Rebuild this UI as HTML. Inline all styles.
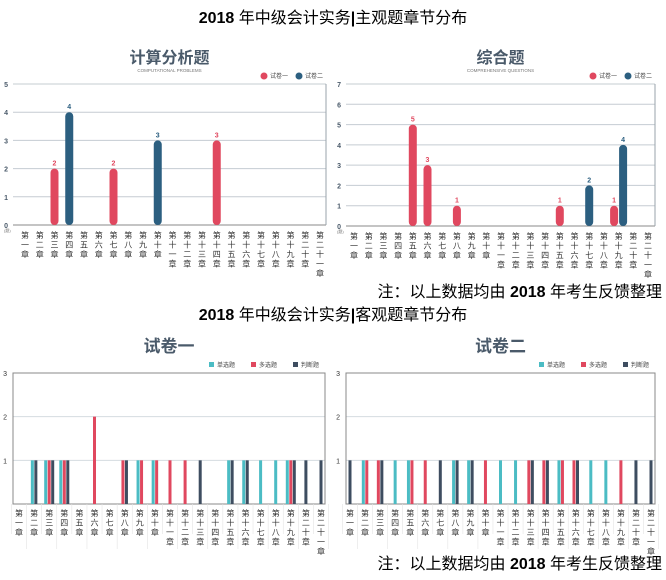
<!DOCTYPE html>
<html><head><meta charset="utf-8">
<style>
html,body{margin:0;padding:0;background:#fff;}
body{width:666px;height:575px;overflow:hidden;position:relative;font-family:"Liberation Sans","Noto Sans CJK SC",sans-serif;}
</style></head>
<body>
<svg id="s" width="666" height="575" xmlns="http://www.w3.org/2000/svg" font-family="Liberation Sans, Noto Sans CJK SC, sans-serif"></svg>
<script>
const S=document.getElementById('s');let h='';
const RED='#e0485f',BLUE='#2c5f80',CY='#4bbcc4',DK='#3e4d60';
const nums=['一','二','三','四','五','六','七','八','九','十','十一','十二','十三','十四','十五','十六','十七','十八','十九','二十','二十一'];
function txt(x,y,t,o){h+=`<text x="${x}" y="${y}" ${o||''}>${t}</text>`;}
function labels(c0,sp,y0){
 for(let i=0;i<21;i++){const ch=('第'+nums[i]+'章').split('');const cx=c0+sp*i;
  ch.forEach((c,k)=>txt(cx,y0+k*9.5,c,'font-size="8" fill="#333" text-anchor="middle"'));}
}
function topChart(o){
 const {x0,x1,y0,y1,max,c0,sp,title,sub,bars}=o;
 const cx=(x0+x1)/2;
 txt(cx,63,title,'font-size="16" font-weight="bold" fill="#4a5a6a" text-anchor="middle"');
 txt(cx,72,sub,'font-size="4.5" fill="#777" text-anchor="middle"');
 h+=`<circle cx="${x1-62}" cy="76" r="3.5" fill="${RED}"/><circle cx="${x1-27}" cy="76" r="3.5" fill="${BLUE}"/>`;
 txt(x1-56,78,'试卷一','font-size="6" fill="#444"');txt(x1-21,78,'试卷二','font-size="6" fill="#444"');
 for(let v=0;v<=max;v++){const y=y1-(y1-y0)*v/max;
  h+=`<line x1="${x0}" x2="${x1}" y1="${y}" y2="${y}" stroke="${v==0?'#888':'#c5ccd2'}" stroke-width="1"/>`;
  txt(x0-5,y+3,v,'font-size="7" font-weight="bold" fill="#4a5a6a" text-anchor="end"');}
 h+=`<line x1="${x1}" x2="${x1}" y1="${y0}" y2="${y1}" stroke="#9aa3ab" stroke-width="1"/>`;
 txt(x0-9,y1+7,'(题)','font-size="4" fill="#777"');
 bars.forEach(b=>{const c=c0+sp*b[0]+(b[3]||0);const hh=(y1-y0)*b[1]/max;const col=b[2];
  h+=`<rect x="${c-4}" y="${y1-hh}" width="8" height="${hh}" rx="4" fill="${col}"/>`;
  txt(c,y1-hh-3,b[1],`font-size="7" font-weight="bold" fill="${col}" text-anchor="middle"`);});
 labels(c0,sp,y1+13);
}
topChart({x0:13,x1:326,y0:84,y1:225,max:5,c0:25,sp:14.75,title:'计算分析题',sub:'COMPUTATIONAL PROBLEMS',
 bars:[[2,2,RED],[3,4,BLUE],[6,2,RED],[9,3,BLUE],[13,3,RED]]});
topChart({x0:346,x1:655,y0:84,y1:226,max:7,c0:354,sp:14.7,title:'综合题',sub:'COMPREHENSIVE QUESTIONS',
 bars:[[4,5,RED],[5,3,RED],[7,1,RED],[14,1,RED],[16,2,BLUE],[18,1,RED,-4.5],[18,4,BLUE,4.5]]});
function botChart(o){
 const {x0,x1,y0,y1,c0,sp,title,data}=o;const cx=(x0+x1)/2;
 txt(cx,352,title,'font-size="17" font-weight="bold" fill="#4a5a6a" text-anchor="middle"');
 const lg=[[CY,'单选题',x1-108],[RED,'多选题',x1-66],[DK,'判断题',x1-24]];
 lg.forEach(l=>{h+=`<rect x="${l[2]-8}" y="362" width="5" height="5" fill="${l[0]}"/>`;txt(l[2],367,l[1],'font-size="6" fill="#444"');});
 for(let v=0;v<=3;v++){const y=y1-(y1-y0)*v/3;
  h+=`<line x1="${x0}" x2="${x1}" y1="${y}" y2="${y}" stroke="${v==0?'#888':'#d5dbe0'}" stroke-width="1"/>`;
  if(v>0)txt(x0-6,y+3,v,'font-size="7" fill="#333" text-anchor="end"');}
 h+=`<rect x="${x0}" y="${y0}" width="${x1-x0}" height="${y1-y0}" fill="none" stroke="#888" stroke-width="1"/>`;
 for(let i=0;i<=21;i++){const x=c0+sp*(i-0.5);h+=`<line x1="${x}" x2="${x}" y1="${y1}" y2="${y1+(i%2?45:30)}" stroke="#e4e4e4" stroke-width="0.6"/>`;}
 data.forEach((d,i)=>{const c=c0+sp*i;const items=[];
  if(d[0])items.push([CY,d[0]]);if(d[1])items.push([RED,d[1]]);if(d[2])items.push([DK,d[2]]);
  const n=items.length;items.forEach((it,k)=>{const bx=c+(k-(n-1)/2)*3.5-1.5;const hh=(y1-y0)*it[1]/3;
   h+=`<rect x="${bx}" y="${y1-hh}" width="3" height="${hh}" fill="${it[0]}"/>`;});});
 labels(c0,sp,y1+12);
}
botChart({x0:13,x1:325,y0:373,y1:504,c0:19,sp:15.1,title:'试卷一',data:[
[0,0,0],[1,0,1],[1,1,1],[1,1,1],[0,0,0],[0,2,0],[0,0,0],[0,1,1],[1,1,0],[1,1,0],[0,1,0],[0,1,0],[0,0,1],[0,0,0],[1,0,1],[1,0,1],[1,0,0],[1,0,0],[1,1,1],[0,0,1],[0,0,1]]});
botChart({x0:346,x1:655,y0:373,y1:504,c0:350,sp:15.05,title:'试卷二',data:[
[0,0,1],[1,1,0],[0,1,1],[1,0,0],[1,1,0],[0,1,0],[0,0,1],[1,0,1],[1,0,1],[0,1,0],[1,0,0],[1,0,0],[0,1,1],[0,1,1],[1,1,0],[0,1,1],[1,0,0],[1,0,0],[0,1,0],[0,0,1],[0,0,1]]});
const T='font-size="16" fill="#000" text-anchor="middle"';
h+=`<text x="333" y="23" ${T}><tspan font-weight="bold">2018</tspan> 年中级会计实务<tspan font-weight="bold">|</tspan>主观题章节分布</text>`;
h+=`<text x="333" y="320" ${T}><tspan font-weight="bold">2018</tspan> 年中级会计实务<tspan font-weight="bold">|</tspan>客观题章节分布</text>`;
const N='font-size="16" fill="#000" text-anchor="end"';
h+=`<text x="662" y="297" ${N}>注：以上数据均由 <tspan font-weight="bold">2018</tspan> 年考生反馈整理</text>`;
h+=`<text x="662" y="569" ${N}>注：以上数据均由 <tspan font-weight="bold">2018</tspan> 年考生反馈整理</text>`;
S.innerHTML=h;
</script>
</body></html>
